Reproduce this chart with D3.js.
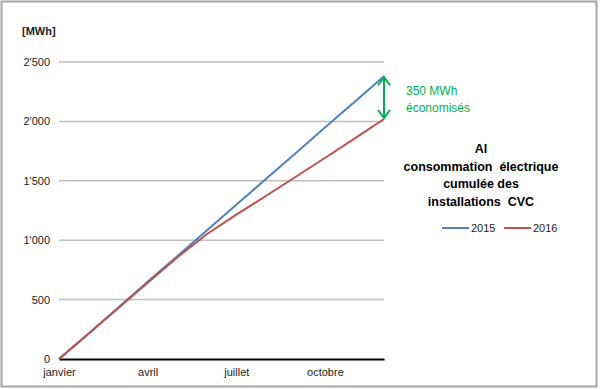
<html>
<head>
<script src="https://d3js.org/d3.v7.min.js"></script>
<style>
  body { margin: 0; background: #fff; }
  text { font-family: "Liberation Sans", Arial, sans-serif; }
</style>
</head>
<body>
<script>
// data (MWh, cumulated, month index 0 = janvier)
var months = ["janvier","février","mars","avril","mai","juin","juillet","août","septembre","octobre","novembre","décembre"];
var tickMonths = ["janvier","avril","juillet","octobre"];
var yTicks = [0, 500, 1000, 1500, 2000, 2500];
var values2015 = [0, 215, 432, 650, 865, 1082, 1298, 1515, 1730, 1948, 2163, 2380];
var values2016 = [0, 213, 428, 642, 855, 1050, 1215, 1372, 1532, 1692, 1855, 2020];
var seriesNames = ["2015", "2016"];
var colors = ["#4f81bd", "#c0504d"];
var titleLines = ["Al", "consommation  électrique", "cumulée des", "installations  CVC"];
var noteLines = ["350 MWh", "économisés"];

var width = 600, height = 389;
var svg = d3.select("body").append("svg")
  .attr("width", width).attr("height", height);

// outer frame
svg.append("rect")
  .attr("x", 1.5).attr("y", 1.5)
  .attr("width", 595).attr("height", 385)
  .attr("fill", "#fff").attr("stroke", "#a6a6a6").attr("stroke-width", 2);

var x = d3.scalePoint().domain(months).range([59, 384]);
var y = d3.scaleLinear().domain([0, 2500]).range([359, 62]);

// gridlines
svg.append("g")
  .selectAll("line")
  .data(yTicks.slice(1))
  .enter().append("line")
    .attr("x1", 59).attr("x2", 384)
    .attr("y1", function(d) { return y(d); })
    .attr("y2", function(d) { return y(d); })
    .attr("stroke", "#bfbfbf").attr("stroke-width", 1.5);

// y axis labels
var fmt = function(d) { return d >= 1000 ? Math.floor(d / 1000) + "'" + d3.format("03")(d % 1000) : d; };
var yAxis = d3.axisLeft(y).tickValues(yTicks).tickFormat(fmt).tickSize(0).tickPadding(0);
var gy = svg.append("g").attr("transform", "translate(50,0)").call(yAxis);
gy.select(".domain").remove();
gy.selectAll("text").attr("font-size", 11).attr("fill", "#222")
  .attr("font-family", "Liberation Sans, Arial, sans-serif");

// x axis
var xAxis = d3.axisBottom(x).tickValues(tickMonths).tickSize(0).tickPadding(9);
var gx = svg.append("g").attr("transform", "translate(0,359)").call(xAxis);
gx.select(".domain").attr("stroke", "#000").attr("stroke-width", 2);
gx.selectAll("text").attr("font-size", 11).attr("fill", "#222")
  .attr("font-family", "Liberation Sans, Arial, sans-serif");

svg.append("text")
  .attr("x", 22).attr("y", 35)
  .attr("font-size", 11).attr("font-weight", "bold").attr("fill", "#222")
  .text("[MWh]");

// lines
var line = d3.line()
  .x(function(d, i) { return x(months[i]); })
  .y(function(d) { return y(d); });

[values2015, values2016].forEach(function(vals, k) {
  svg.append("path")
    .datum(vals)
    .attr("d", line)
    .attr("fill", "none")
    .attr("stroke", colors[k])
    .attr("stroke-width", 2);
});

// savings arrow
var ax = x(months[11]);
var yTop = y(values2015[11]) + 1, yBot = y(values2016[11]) - 1;
var green = "#00b050";
svg.append("line")
  .attr("x1", ax).attr("x2", ax).attr("y1", yTop).attr("y2", yBot)
  .attr("stroke", green).attr("stroke-width", 2);
svg.append("path")
  .attr("d", "M" + (ax - 6) + "," + (yTop + 8) + "L" + ax + "," + yTop + "L" + (ax + 6) + "," + (yTop + 8))
  .attr("fill", "none").attr("stroke", green).attr("stroke-width", 2);
svg.append("path")
  .attr("d", "M" + (ax - 6) + "," + (yBot - 8) + "L" + ax + "," + yBot + "L" + (ax + 6) + "," + (yBot - 8))
  .attr("fill", "none").attr("stroke", green).attr("stroke-width", 2);

svg.append("g").selectAll("text")
  .data(noteLines)
  .enter().append("text")
    .attr("x", 406)
    .attr("y", function(d, i) { return 95 + i * 17; })
    .attr("font-size", 12).attr("fill", green)
    .text(function(d) { return d; });

// title
svg.append("g").selectAll("text")
  .data(titleLines)
  .enter().append("text")
    .attr("x", 481)
    .attr("y", function(d, i) { return 153 + i * 17.5; })
    .attr("text-anchor", "middle")
    .attr("font-size", 12.5).attr("font-weight", "bold").attr("fill", "#000")
    .style("white-space", "pre")
    .text(function(d) { return d; });

// legend
var legX = [442, 504];
var leg = svg.append("g").selectAll("g")
  .data(seriesNames)
  .enter().append("g")
    .attr("transform", function(d, i) { return "translate(" + legX[i] + ",228)"; });
leg.append("line")
  .attr("x1", 0).attr("x2", 27).attr("y1", 0).attr("y2", 0)
  .attr("stroke", function(d, i) { return colors[i]; })
  .attr("stroke-width", 2);
leg.append("text")
  .attr("x", 29).attr("y", 4)
  .attr("font-size", 11).attr("fill", "#222")
  .text(function(d) { return d; });
</script>
</body>
</html>
